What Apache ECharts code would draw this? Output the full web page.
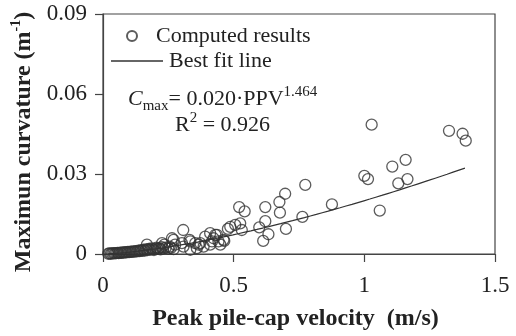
<!DOCTYPE html>
<html>
<head>
<meta charset="utf-8">
<script src="https://cdn.jsdelivr.net/npm/echarts@6/dist/echarts.min.js"></script>
<style>
  html, body { margin: 0; padding: 0; background: #fff; }
  #chart { width: 516px; height: 336px; }
</style>
</head>
<body>
<div id="chart"></div>
<script>
// Peak pile-cap velocity (m/s) for each computed case
const ppv = [
  0.020, 0.025, 0.030, 0.035, 0.040, 0.045, 0.050, 0.055, 0.060, 0.065,
  0.070, 0.075, 0.080, 0.085, 0.090, 0.095, 0.100, 0.105, 0.110, 0.115,
  0.120, 0.125, 0.130, 0.135, 0.140, 0.145, 0.150, 0.155, 0.160, 0.165,
  0.168, 0.170, 0.175, 0.180, 0.185, 0.190, 0.195, 0.200, 0.205, 0.210,
  0.215, 0.220, 0.225, 0.226, 0.230, 0.235, 0.240, 0.250, 0.255, 0.260,
  0.264, 0.270, 0.270, 0.276, 0.302, 0.307, 0.308, 0.331, 0.334, 0.334,
  0.353, 0.359, 0.366, 0.372, 0.385, 0.391, 0.410, 0.410, 0.417, 0.423,
  0.430, 0.436, 0.442, 0.449, 0.461, 0.464, 0.478, 0.487, 0.506, 0.521,
  0.525, 0.531, 0.542, 0.598, 0.613, 0.621, 0.621, 0.633, 0.675, 0.677,
  0.697, 0.700, 0.763, 0.774, 0.876, 1.000, 1.014, 1.028, 1.059, 1.107,
  1.130, 1.158, 1.165, 1.324, 1.376, 1.388
];
// Maximum curvature (1/m) for the same cases
const curvature = [
  0.0001, 0.0002, 0.0001, 0.0002, 0.0003, 0.0002, 0.0003, 0.0004, 0.0003, 0.0005,
  0.0004, 0.0006, 0.0005, 0.0007, 0.0006, 0.0008, 0.0007, 0.0009, 0.0008, 0.0010,
  0.0009, 0.0011, 0.0010, 0.0013, 0.0011, 0.0014, 0.0012, 0.0016, 0.0013, 0.0017,
  0.0035, 0.0015, 0.0019, 0.0016, 0.0021, 0.0018, 0.0015, 0.0020, 0.0024, 0.0019,
  0.0022, 0.0017, 0.0026, 0.0041, 0.0021, 0.0035, 0.0024, 0.0020, 0.0028, 0.0023,
  0.0059, 0.0053, 0.0018, 0.0035, 0.0041, 0.0090, 0.0028, 0.0053, 0.0016, 0.0047,
  0.0041, 0.0022, 0.0035, 0.0041, 0.0028, 0.0065, 0.0078, 0.0035, 0.0047, 0.0059,
  0.0072, 0.0072, 0.0047, 0.0035, 0.0053, 0.0049, 0.0094, 0.0102, 0.0109, 0.0176,
  0.0115, 0.0090, 0.0160, 0.0100, 0.0049, 0.0176, 0.0123, 0.0074, 0.0195, 0.0155,
  0.0226, 0.0094, 0.0139, 0.0259, 0.0186, 0.0293, 0.0281, 0.0485, 0.0163, 0.0328,
  0.0265, 0.0353, 0.0281, 0.0462, 0.0451, 0.0425
];

// Power-law fit: Cmax = a * PPV^b
const fitA = 0.020;
const fitB = 1.464;
const fitR2 = 0.926;
const fitRange = [0.02, 1.385];

const xTicks = [0, 0.5, 1, 1.5];
const yTicks = [0, 0.03, 0.06, 0.09];

const points = ppv.map((v, i) => [v, curvature[i]]);
const fitLine = [];
for (let k = 0; k <= 60; k++) {
  const x = fitRange[0] + (fitRange[1] - fitRange[0]) * k / 60;
  fitLine.push([x, fitA * Math.pow(x, fitB)]);
}

const serif = '"Liberation Serif", "DejaVu Serif", serif';
const ink = '#222';
const axisColor = '#444';

const chart = echarts.init(document.getElementById('chart'), null, { renderer: 'canvas' });
chart.setOption({
  animation: false,
  backgroundColor: '#fff',
  textStyle: { fontFamily: serif, color: ink },
  grid: { left: 103, right: 21, top: 14, bottom: 78, show: true, borderColor: axisColor, borderWidth: 1.2 },
  xAxis: {
    type: 'value',
    min: xTicks[0], max: xTicks[xTicks.length - 1], interval: 0.5,
    axisLine: { onZero: false, lineStyle: { color: axisColor, width: 1.2 } },
    axisTick: { show: true, inside: false, length: 8, lineStyle: { color: axisColor, width: 1.2 } },
    splitLine: { show: false },
    axisLabel: {
      margin: 20, fontSize: 23, fontFamily: serif, color: ink,
      formatter: v => String(Math.round(v * 10) / 10)
    },
    name: 'Peak pile-cap velocity  (m/s)',
    nameLocation: 'middle', nameGap: 53,
    nameTextStyle: { fontSize: 24, fontWeight: 'bold', fontFamily: serif, color: ink, padding: [0, 7, 0, 0] }
  },
  yAxis: {
    type: 'value',
    min: yTicks[0], max: yTicks[yTicks.length - 1], interval: 0.03,
    axisLine: { show: true, onZero: false, lineStyle: { color: axisColor, width: 1.2 } },
    axisTick: { show: true, inside: false, length: 8, lineStyle: { color: axisColor, width: 1.2 } },
    splitLine: { show: false },
    axisLabel: {
      margin: 16, fontSize: 23, fontFamily: serif, color: ink,
      formatter: v => (Math.abs(v) < 1e-9 ? '0' : v.toFixed(2))
    },
    name: '{t|Maximun curvature (m}{s|-1}{t|)}',
    nameLocation: 'middle', nameGap: 64,
    nameTextStyle: {
      padding: [0, 16, 0, 0],
      rich: {
        t: { fontSize: 24, fontWeight: 'bold', fontFamily: serif, color: ink, lineHeight: 28 },
        s: { fontSize: 14, fontWeight: 'bold', fontFamily: serif, color: ink, verticalAlign: 'top', lineHeight: 28 }
      }
    }
  },
  legend: [
    {
      data: [{ name: 'Computed results', icon: 'circle' }],
      left: 121, top: 20, orient: 'vertical',
      itemWidth: 10, itemHeight: 10,
      textStyle: { fontSize: 22, fontFamily: serif, color: ink, padding: [0, 0, 0, 14] },
      selectedMode: false
    },
    {
      data: [{ name: 'Best fit line', icon: 'rect' }],
      left: 106, top: 45, orient: 'vertical',
      itemWidth: 52, itemHeight: 1.3,
      textStyle: { fontSize: 22, fontFamily: serif, color: ink, padding: [0, 0, 0, 1] },
      selectedMode: false
    }
  ],
  graphic: [
    {
      type: 'text', left: 128, top: 83,
      style: {
        text: '{c|C}{sub|max}{t|= 0.020·PPV}{sup|' + fitB.toFixed(3) + '}',
        rich: {
          c: { fontSize: 22, fontStyle: 'italic', fontFamily: serif, fill: ink, lineHeight: 27, verticalAlign: 'bottom' },
          sub: { fontSize: 15, fontFamily: serif, fill: ink, lineHeight: 27, verticalAlign: 'bottom', padding: [0, 0, -4, 0] },
          t: { fontSize: 22, fontFamily: serif, fill: ink, lineHeight: 27, verticalAlign: 'bottom' },
          sup: { fontSize: 15, fontFamily: serif, fill: ink, lineHeight: 27, verticalAlign: 'top', padding: [2, 0, 0, 0] }
        }
      }
    },
    {
      type: 'text', left: 175, top: 109,
      style: {
        text: '{t|R}{sup|2}{t| = ' + fitR2.toFixed(3) + '}',
        rich: {
          t: { fontSize: 22, fontFamily: serif, fill: ink, lineHeight: 27, verticalAlign: 'bottom' },
          sup: { fontSize: 15, fontFamily: serif, fill: ink, lineHeight: 27, verticalAlign: 'top', padding: [2, 0, 0, 0] }
        }
      }
    }
  ],
  series: [
    {
      name: 'Computed results',
      type: 'scatter',
      data: points,
      symbol: 'circle',
      symbolSize: 11,
      itemStyle: { color: 'rgba(255,255,255,0)', borderColor: '#333', borderWidth: 1.3 },
      z: 3
    },
    {
      name: 'Best fit line',
      type: 'line',
      data: fitLine,
      showSymbol: false,
      symbol: 'none',
      smooth: false,
      lineStyle: { color: '#333', width: 1.2 },
      itemStyle: { color: '#333' },
      z: 4
    }
  ]
});
</script>
</body>
</html>
